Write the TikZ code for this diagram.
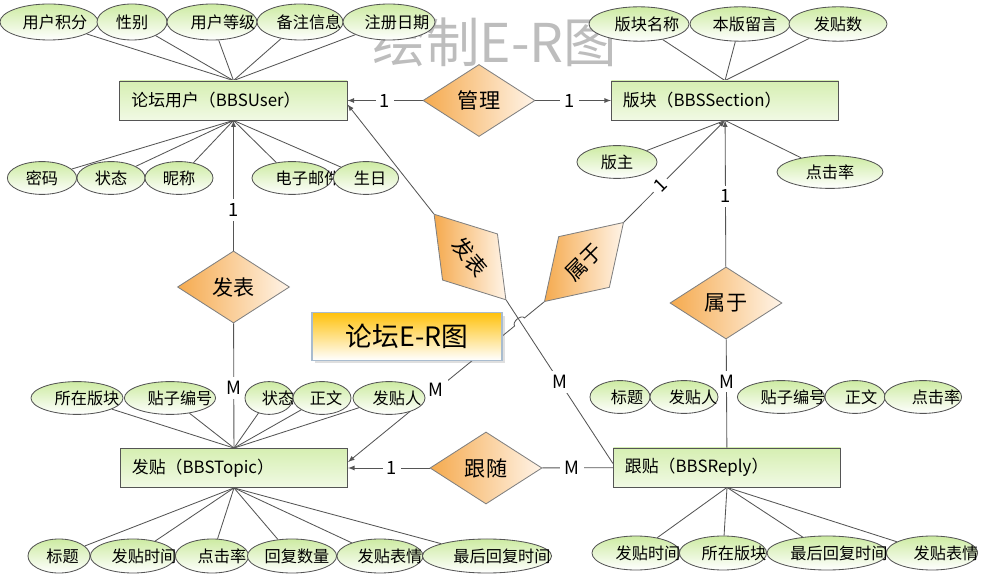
\documentclass[tikz,border=0pt]{standalone}
\usepackage{fontspec}
\setmainfont{Noto Sans CJK SC}
\usepackage{xcolor}
\usepackage{tikz}
\usetikzlibrary{arrows}
\usetikzlibrary{shapes.geometric}
\usetikzlibrary{shadows}
\usetikzlibrary{calc}

\definecolor{attrgreen}{HTML}{CDEBA2}
\definecolor{entgreen}{HTML}{D6EFB2}
\definecolor{relorange}{HTML}{F5AA4E}
\definecolor{relpale}{HTML}{FFF4E8}
\definecolor{titlegold}{HTML}{FFC20E}
\definecolor{titleedge}{HTML}{A9BCCF}
\definecolor{wmgray}{HTML}{BDBDBD}
\definecolor{edgegray}{HTML}{555555}

\pgfdeclarelayer{background}
\pgfsetlayers{background,main}

\tikzset{
  entity/.style={draw=edgegray, line width=0.6pt, top color=entgreen, bottom color=entgreen!35,
    minimum width=5.675cm, minimum height=0.975cm, text width=5.1cm, inner xsep=0.29cm,
    inner ysep=0pt, align=left, font=\fontsize{12}{14}\selectfont},
  attr/.style={ellipse, draw=edgegray, line width=0.6pt, top color=attrgreen, bottom color=white,
    inner sep=0pt, minimum height=0.82cm, font=\fontsize{11.5}{13}\selectfont,
    execute at begin node={\hbox to 0pt\bgroup\hss}, execute at end node={\hss\egroup}},
  rel/.style={diamond, draw=gray, line width=0.6pt, left color=relorange, right color=relpale,
    inner sep=0pt, minimum width=2.8cm, minimum height=1.8cm, font=\fontsize{15}{15}\selectfont},
  conn/.style={draw=edgegray, line width=0.6pt},
  lbl/.style={fill=white, inner sep=3pt, font=\fontsize{13}{13}\selectfont}
}

\begin{document}
\begin{tikzpicture}[x=0.025cm, y=-0.025cm]
    \useasboundingbox (0,0) rectangle (987,576);
    \begin{pgfonlayer}{background}
      \node[text=wmgray, font=\fontsize{38}{38}\selectfont] (mark) at (495,42) {绘制E-R图};
    \end{pgfonlayer}

    \node[entity] (user) at (233.5,100.5) {论坛用户（BBSUser）};
    \node[entity] (section) at (725,100.5) {版块（BBSSection）};
    \node[entity] (topic) at (234,468) {发贴（BBSTopic）};
    \node[entity] (reply) at (727,467.5) {跟贴（BBSReply）};

    \node[rel] (manage) at (479,100.5) {管理};
    \node[rel] (post) at (233.5,287) {发表};
    \node[rel] (belong) at (726,303) {属于};
    \node[rel] (follow) at (486,468) {跟随};
    \node[rel, rotate=-50] (tpost) at (470,257) {发表};
    \node[rel, rotate=45] (tbelong) at (584,262) {属于};

    \draw[conn, -latex] (manage) -- node[lbl, pos=0.5] {1} (user);
    \draw[conn, -latex] (manage) -- node[lbl, pos=0.45] {1} (section);
    \draw[conn, -latex] (post) -- node[lbl, pos=0.31] {1} (user);
    \draw[conn] (post) -- node[lbl, pos=0.52] {M} (topic);
    \draw[conn, -latex] (belong) -- node[lbl, pos=0.48] {1} (section);
    \draw[conn] (belong) -- node[lbl, pos=0.39] {M} (reply);
    \draw[conn, -latex] (follow) -- node[lbl, pos=0.46] {1} (topic);
    \draw[conn] (follow) -- node[lbl, pos=0.42] {M} (reply);
    \draw[conn, -latex] (tpost.west) -- (user.358);
    \draw[conn] (tpost.east) -- node[lbl, pos=0.5] {M} (reply.178);
    \draw[conn, -latex] (tbelong.east) -- node[lbl, rotate=45, pos=0.36] {1} (section.south);
    \draw[conn, -latex] (tbelong.west) -- ($(tbelong.west)!0.10!(topic.3)$)
      to[bend right=90] ($(tbelong.west)!0.15!(topic.3)$)
      -- node[lbl, pos=0.47] {M} (topic.3);

    \node[draw=titleedge, line width=0.8pt, top color=titlegold, bottom color=white,
      minimum width=4.75cm, minimum height=1.18cm, font=\fontsize{19}{19}\selectfont,
      drop shadow={opacity=0.25, shadow xshift=2pt, shadow yshift=-2pt}] (title) at (407,336.5) {论坛E-R图};

    \node[attr, minimum width=2.45cm, minimum height=0.9cm] (ua1) at (49,22) {\hspace*{0.3cm}用户积分};
    \node[attr, minimum width=1.75cm, minimum height=0.9cm] (ua2) at (132,22) {性别};
    \node[attr, minimum width=2.25cm, minimum height=0.9cm] (ua3) at (212,22) {\hspace*{0.55cm}用户等级};
    \node[attr, minimum width=2.15cm, minimum height=0.9cm] (ua4) at (300,22) {\hspace*{0.45cm}备注信息};
    \node[attr, minimum width=2.3cm, minimum height=0.9cm] (ua5) at (389,22) {\hspace*{0.4cm}注册日期};

    \node[attr, minimum width=1.73cm] (ub1) at (42,178) {密码};
    \node[attr, minimum width=1.7cm] (ub2) at (111,178) {状态};
    \node[attr, minimum width=1.7cm] (ub3) at (179,178) {昵称};
    \node[attr, minimum width=2.0cm] (ub4) at (292,178) {\hspace*{0.8cm}电子邮件};
    \node[attr, minimum width=1.63cm] (ub5) at (366,178) {\hspace*{0.2cm}生日};

    \node[attr, minimum width=2.5cm, minimum height=0.86cm] (sa1) at (639,24) {\hspace*{0.4cm}版块名称};
    \node[attr, minimum width=2.5cm, minimum height=0.86cm] (sa2) at (740,24) {\hspace*{0.25cm}本版留言};
    \node[attr, minimum width=2.45cm, minimum height=0.86cm] (sa3) at (838,24) {发贴数};
    \node[attr, minimum width=2.0cm] (sb1) at (617,162) {版主};
    \node[attr, minimum width=2.65cm] (sb2) at (830,172) {点击率};

    \node[attr, minimum width=2.3cm] (ta1) at (77,398) {\hspace*{0.5cm}所在版块};
    \node[attr, minimum width=2.28cm] (ta2) at (170,398) {\hspace*{0.5cm}贴子编号};
    \node[attr, minimum width=1.2cm] (ta3) at (269,398) {\hspace*{0.45cm}状态};
    \node[attr, minimum width=1.45cm] (ta4) at (322,398) {\hspace*{0.2cm}正文};
    \node[attr, minimum width=1.8cm] (ta5) at (389,398) {\hspace*{0.4cm}发贴人};

    \node[attr, minimum width=1.55cm, minimum height=0.85cm] (tb1) at (59,556) {\hspace*{0.18cm}标题};
    \node[attr, minimum width=2.13cm, minimum height=0.85cm] (tb2) at (133,556) {\hspace*{0.55cm}发贴时间};
    \node[attr, minimum width=1.83cm, minimum height=0.85cm] (tb3) at (212,556) {\hspace*{0.5cm}点击率};
    \node[attr, minimum width=2.23cm, minimum height=0.85cm] (tb4) at (292,556) {\hspace*{0.25cm}回复数量};
    \node[attr, minimum width=2.15cm, minimum height=0.85cm] (tb5) at (380,556) {\hspace*{0.5cm}发贴表情};
    \node[attr, minimum width=3.23cm, minimum height=0.85cm] (tb6) at (487,556) {\hspace*{0.75cm}最后回复时间};

    \node[attr, minimum width=1.5cm] (ra1) at (620,397) {\hspace*{0.35cm}标题};
    \node[attr, minimum width=1.7cm] (ra2) at (684,397) {\hspace*{0.45cm}发贴人};
    \node[attr, minimum width=2.18cm] (ra3) at (781,397) {\hspace*{0.6cm}贴子编号};
    \node[attr, minimum width=1.5cm] (ra4) at (855,397) {\hspace*{0.3cm}正文};
    \node[attr, minimum width=1.93cm] (ra5) at (923,397) {\hspace*{0.65cm}点击率};

    \node[attr, minimum width=2.2cm, minimum height=0.85cm] (rb1) at (636,553) {\hspace*{0.6cm}发贴时间};
    \node[attr, minimum width=2.18cm, minimum height=0.85cm] (rb2) at (723,553) {\hspace*{0.55cm}所在版块};
    \node[attr, minimum width=3.0cm, minimum height=0.85cm] (rb3) at (827,553) {\hspace*{0.6cm}最后回复时间};
    \node[attr, minimum width=2.28cm, minimum height=0.85cm] (rb4) at (932,553) {\hspace*{0.7cm}发贴表情};

    \begin{pgfonlayer}{background}
      \foreach \a in {ua1,ua2,ua3,ua4,ua5}
        \draw[conn] (\a) -- (user.north);
      \foreach \a in {ub1,ub2,ub3,ub4,ub5}
        \draw[conn] (\a) -- (user.south);
      \foreach \a in {sa1,sa2,sa3}
        \draw[conn] (\a) -- (section.north);
      \foreach \a in {sb1,sb2}
        \draw[conn] (\a) -- (section.south);
      \foreach \a in {ta1,ta2,ta3,ta4,ta5}
        \draw[conn] (\a) -- (topic.north);
      \foreach \a in {tb1,tb2,tb3,tb4,tb5,tb6}
        \draw[conn] (\a) -- (topic.south);
      \foreach \a in {rb1,rb2,rb3,rb4}
        \draw[conn] (\a) -- (reply.south);
    \end{pgfonlayer}
\end{tikzpicture}
\end{document}
